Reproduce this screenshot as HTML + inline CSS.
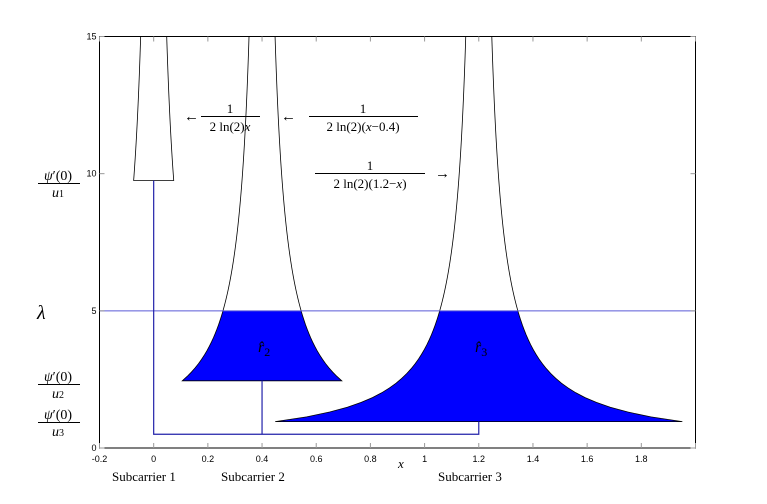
<!DOCTYPE html>
<html><head><meta charset="utf-8"><style>
html,body{margin:0;padding:0;background:#fff;}
svg{display:block;}
.tk{font-family:"Liberation Sans",sans-serif;font-size:9px;fill:#000;}
.mt{font-family:"Liberation Serif",serif;fill:#000;}
</style></head><body>
<svg id="chart" width="767" height="504" viewBox="0 0 767 504" xmlns="http://www.w3.org/2000/svg">
<g id="marks"></g>
<rect x="99.5" y="36.5" width="596" height="411.5" fill="none" stroke="#000" stroke-width="1"/>
<g id="ticks"></g>
<text class="mt" x="398" y="468" font-size="13" font-style="italic">x</text>
<text class="mt" x="37" y="319" font-size="20" font-style="italic">λ</text>
<g>
<text class="mt" x="58" y="180" font-size="14" text-anchor="middle"><tspan font-style="italic">ψ</tspan>′(0)</text>
<line x1="38" y1="183.5" x2="80" y2="183.5" stroke="#000"/>
<text class="mt" x="58" y="197" font-size="14" text-anchor="middle" font-style="italic">u<tspan font-size="10" font-style="normal">1</tspan></text>
</g>
<g>
<text class="mt" x="58" y="381" font-size="14" text-anchor="middle"><tspan font-style="italic">ψ</tspan>′(0)</text>
<line x1="38" y1="384.5" x2="80" y2="384.5" stroke="#000"/>
<text class="mt" x="58" y="398" font-size="14" text-anchor="middle" font-style="italic">u<tspan font-size="10" font-style="normal">2</tspan></text>
</g>
<g>
<text class="mt" x="58" y="419" font-size="14" text-anchor="middle"><tspan font-style="italic">ψ</tspan>′(0)</text>
<line x1="38" y1="422.5" x2="80" y2="422.5" stroke="#000"/>
<text class="mt" x="58" y="436" font-size="14" text-anchor="middle" font-style="italic">u<tspan font-size="10" font-style="normal">3</tspan></text>
</g>
<g>
<text class="mt" x="184" y="121" font-size="15">←</text>
<text class="mt" x="230" y="113" font-size="13" text-anchor="middle">1</text>
<line x1="201" y1="116.5" x2="260" y2="116.5" stroke="#000"/>
<text class="mt" x="230" y="131" font-size="13" text-anchor="middle">2 ln(2)<tspan font-style="italic">x</tspan></text>
</g>
<g>
<text class="mt" x="281" y="121" font-size="15">←</text>
<text class="mt" x="363" y="113" font-size="13" text-anchor="middle">1</text>
<line x1="309" y1="116.5" x2="418" y2="116.5" stroke="#000"/>
<text class="mt" x="363" y="131" font-size="13" text-anchor="middle">2 ln(2)(<tspan font-style="italic">x</tspan>−0.4)</text>
</g>
<g>
<text class="mt" x="370" y="170" font-size="13" text-anchor="middle">1</text>
<line x1="315" y1="173.5" x2="425" y2="173.5" stroke="#000"/>
<text class="mt" x="370" y="188" font-size="13" text-anchor="middle">2 ln(2)(1.2−<tspan font-style="italic">x</tspan>)</text>
<text class="mt" x="435" y="178" font-size="15">→</text>
</g>
<text class="mt" x="258" y="352" font-size="16" font-style="italic">r̂<tspan font-size="12" font-style="normal" dy="4">2</tspan></text>
<text class="mt" x="475" y="352" font-size="16" font-style="italic">r̂<tspan font-size="12" font-style="normal" dy="4">3</tspan></text>
<text class="mt" x="112" y="481" font-size="13">Subcarrier 1</text>
<text class="mt" x="221" y="481" font-size="13">Subcarrier 2</text>
<text class="mt" x="438" y="481" font-size="13">Subcarrier 3</text>
</svg>
<script>
const centers=[0,0.4,1.2];
const floors=[9.75,2.45,0.96];
const lambdaLevel=[5];
const baseLevel=[0.5];
const xTicks=[-0.2,0,0.2,0.4,0.6,0.8,1,1.2,1.4,1.6,1.8,2.0];
const xTickLabels=["-0.2","0","0.2","0.4","0.6","0.8","1","1.2","1.4","1.6","1.8",""];
const yTicks=[0,5,10,15];
const yTickLabels=["0","5","10","15"];

const X0=99.5,X1=695.5,Y0=448,Y1=36.5,xmin=-0.2,xmax=2.0,ymin=0,ymax=15;
const sx=v=>X0+(v-xmin)/(xmax-xmin)*(X1-X0);
const sy=v=>Y0-(v-ymin)/(ymax-ymin)*(Y0-Y1);
const K=2*Math.log(2);
const NS="http://www.w3.org/2000/svg";
const marks=document.getElementById('marks');
const ticks=document.getElementById('ticks');
function mk(tag,attrs,parent){const e=document.createElementNS(NS,tag);for(const k in attrs)e.setAttribute(k,attrs[k]);parent.appendChild(e);return e;}
function sidePts(c,y0,y1,sign){const p=[];const n=80;for(let i=0;i<=n;i++){const y=y0+(y1-y0)*i/n;p.push([sx(c+sign/(K*y)),sy(y)]);}return p;}
const lam=lambdaLevel[0];
centers.forEach((c,i)=>{
  const f=floors[i];
  if(f<lam){
    const L=sidePts(c,f,lam,-1),R=sidePts(c,lam,f,1);
    const d='M'+L.concat(R).map(p=>p[0].toFixed(2)+','+p[1].toFixed(2)).join('L')+'Z';
    const fl=mk('path',{d:d,fill:'#0000ff',stroke:'none'},marks);
    
    
  }
  const L=sidePts(c,ymax,f,-1),R=sidePts(c,f,ymax,1);
  const d='M'+L.concat(R).map(p=>p[0].toFixed(2)+','+p[1].toFixed(2)).join('L');
  const o=mk('path',{d:d,fill:'none',stroke:'#000','stroke-width':0.8},marks);
  
  
});
const ll=mk('line',{x1:X0,x2:X1,y1:sy(lam),y2:sy(lam),stroke:'#5a5ad8','stroke-width':1},marks);


const b=baseLevel[0];
let d='M'+sx(centers[0])+','+sy(floors[0])+'L'+sx(centers[0])+','+sy(b)+'L'+sx(centers[centers.length-1])+','+sy(b)+'L'+sx(centers[centers.length-1])+','+sy(floors[floors.length-1]);
for(let i=1;i<centers.length-1;i++){d+='M'+sx(centers[i])+','+sy(b)+'L'+sx(centers[i])+','+sy(floors[i]);}
const tr=mk('path',{d:d,fill:'none',stroke:'#2222aa','stroke-width':1.2},marks);


xTicks.forEach((v,i)=>{
  const t=mk('line',{x1:sx(v),x2:sx(v),y1:Y0,y2:Y0-5,stroke:'#999','stroke-width':1},ticks);
  
  
  const tt=mk('line',{x1:sx(v),x2:sx(v),y1:Y1,y2:Y1+5,stroke:'#999','stroke-width':1},ticks);
  
  
  if(xTickLabels[i]){const l=mk('text',{x:sx(v),y:Y0+14,'text-anchor':'middle',class:'tk'},ticks);l.textContent=xTickLabels[i];
  
  }
});
yTicks.forEach((v,i)=>{
  const t=mk('line',{x1:X0,x2:X0+5,y1:sy(v),y2:sy(v),stroke:'#999','stroke-width':1},ticks);
  
  
  const tr2=mk('line',{x1:X1,x2:X1-5,y1:sy(v),y2:sy(v),stroke:'#999','stroke-width':1},ticks);
  
  
  const l=mk('text',{x:X0-3,y:sy(v)+3,'text-anchor':'end',class:'tk'},ticks);l.textContent=yTickLabels[i];
  
  
});
</script>
</body></html>
